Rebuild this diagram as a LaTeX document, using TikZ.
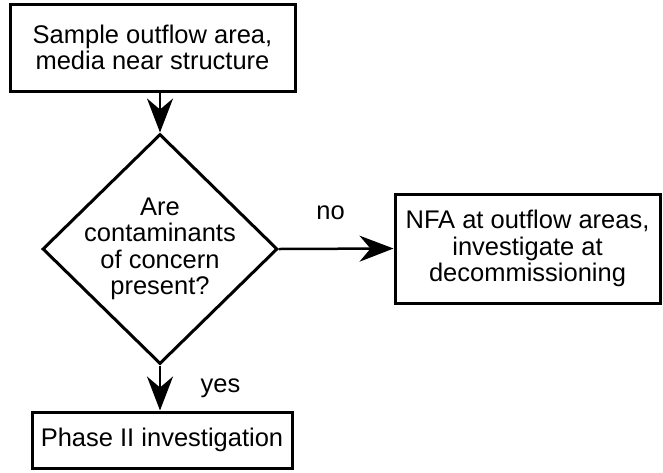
\documentclass[tikz,border=0pt]{standalone}
\usepackage{fontspec}
\setmainfont{Liberation Sans}
\usetikzlibrary{shapes.geometric,arrows.meta}

\begin{document}
\begin{tikzpicture}[x=1pt,y=-1pt,
    font=\fontsize{25.5}{26.5}\selectfont,
    process/.style ={rectangle, draw, line width=3pt, align=center, inner sep=0pt},
    decision/.style ={diamond, draw, line width=3pt, align=center, inner sep=-8pt,
                      minimum width=235pt, minimum height=230pt},
    flow/.style ={line width=2.5pt, -{Stealth[length=34pt, width=26pt, inset=11pt]}}]
   \useasboundingbox (0,0) rectangle (663,472);
   \node[process, minimum width=285pt, minimum height=87pt] (sample) at (152.5,47.5)
        {Sample outflow area,\\media near structure};
   \node[decision] (question) at (160,249)
        {Are\\contaminants\\of concern\\present?};
   \node[process, minimum width=265pt, minimum height=109pt] (nfa) at (527.5,248.5)
        {NFA at outflow areas,\\investigate at\\decommissioning};
   \node[process, minimum width=260pt, minimum height=56pt] (phase) at (162,440)
        {Phase II investigation};
   \draw[flow] (question.north |- sample.south) to (question.north);
   \draw[flow] (question.east) to node[pos=0.45, above=24pt] {no} (nfa.west);
   \draw[flow] (question.south) to node[right=36pt] {yes} (question.south |- phase.north);
 \end{tikzpicture}
\end{document}
